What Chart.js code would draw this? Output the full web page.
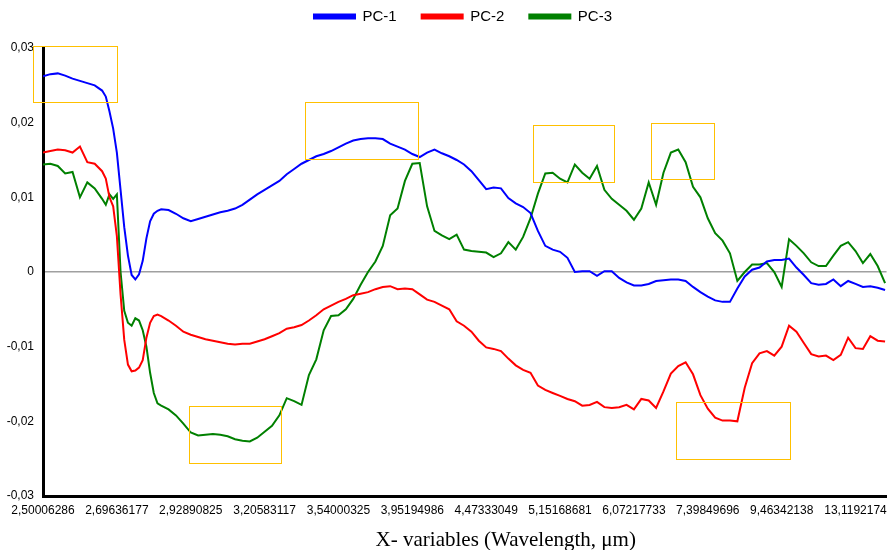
<!DOCTYPE html>
<html>
<head>
<meta charset="utf-8">
<script src="https://cdn.jsdelivr.net/npm/chart.js@4.4.1/dist/chart.umd.min.js"></script>
<style>
  html, body { margin: 0; padding: 0; background: #fff; }
  #wrap { width: 894px; height: 550px; position: relative; }
</style>
</head>
<body>
<div id="wrap"><canvas id="pcChart"></canvas></div>
<script>
// wavelength labels shown under the x axis (one per unit of x position)
const xTickLabels = ['2,50006286', '2,69636177', '2,92890825', '3,20583117', '3,54000325', '3,95194986',
    '4,47333049', '5,15168681', '6,07217733', '7,39849696', '9,46342138', '13,1192174'];
const xMax = 11.42;
const xTitle = 'X- variables (Wavelength, μm)';

// sample positions along the x axis, in label steps (finer through the steep drop)
const xPos = [];
for (let i = 0; i <= 8; i++) xPos.push(i / 10);
for (let i = 17; i <= 32; i++) xPos.push(i / 20);
for (let i = 17; i <= 114; i++) xPos.push(i / 10);

const pc1 = [
    0.0262, 0.0265, 0.0266, 0.0263, 0.0259, 0.0256, 0.0253, 0.0250, 0.0243,
    0.0235, 0.0215, 0.0192, 0.0160, 0.0110, 0.0060, 0.0022, -0.0004, -0.0010, -0.0003, 0.0015, 0.0045, 0.0068, 0.0078, 0.0082, 0.0084,
    0.0083, 0.0078, 0.0072, 0.0068, 0.0071, 0.0074, 0.0077, 0.0080, 0.0082, 0.0085,
    0.0090, 0.0097, 0.0104, 0.0110, 0.0116, 0.0122, 0.0131, 0.0138, 0.0145, 0.0150,
    0.0155, 0.0158, 0.0162, 0.0167, 0.0172, 0.0176, 0.0178, 0.0179, 0.0179, 0.0178,
    0.0172, 0.0168, 0.0164, 0.0158, 0.0154, 0.0160, 0.0164, 0.0159, 0.0155, 0.0150,
    0.0144, 0.0135, 0.0123, 0.0111, 0.0113, 0.0112, 0.0099, 0.0092, 0.0087, 0.0079,
    0.0055, 0.0035, 0.0030, 0.0027, 0.0019, 0.0000, 0.0001, 0.0001, -0.0005, 0.0001,
    0.0001, -0.0008, -0.0014, -0.0018, -0.0018, -0.0016, -0.0012, -0.0011, -0.0010, -0.0010,
    -0.0012, -0.0020, -0.0027, -0.0033, -0.0038, -0.0040, -0.0040, -0.0022, -0.0006, 0.0003,
    0.0006, 0.0014, 0.0016, 0.0016, 0.0018, 0.0006, -0.0004, -0.0015, -0.0017, -0.0016,
    -0.0010, -0.0019, -0.0012, -0.0016, -0.0020, -0.0019, -0.0021, -0.0024
];

const pc2 = [
    0.0160, 0.0162, 0.0164, 0.0163, 0.0160, 0.0168, 0.0147, 0.0145, 0.0135,
    0.0125, 0.0100, 0.0088, 0.0048, -0.0030, -0.0091, -0.0124, -0.0133, -0.0132, -0.0128, -0.0118, -0.0088, -0.0068, -0.0059, -0.0057, -0.0059,
    -0.0065, -0.0072, -0.0080, -0.0084, -0.0087, -0.0090, -0.0092, -0.0094, -0.0096, -0.0097,
    -0.0096, -0.0096, -0.0093, -0.0090, -0.0086, -0.0082, -0.0076, -0.0074, -0.0071, -0.0065,
    -0.0058, -0.0050, -0.0045, -0.0040, -0.0036, -0.0031, -0.0029, -0.0027, -0.0023, -0.0020,
    -0.0019, -0.0023, -0.0022, -0.0023, -0.0030, -0.0037, -0.0040, -0.0045, -0.0050, -0.0066,
    -0.0072, -0.0080, -0.0092, -0.0101, -0.0103, -0.0106, -0.0116, -0.0125, -0.0131, -0.0135,
    -0.0152, -0.0158, -0.0162, -0.0166, -0.0170, -0.0173, -0.0179, -0.0178, -0.0174, -0.0181,
    -0.0182, -0.0181, -0.0178, -0.0184, -0.0170, -0.0172, -0.0182, -0.0160, -0.0136, -0.0126,
    -0.0121, -0.0137, -0.0165, -0.0183, -0.0195, -0.0199, -0.0199, -0.0200, -0.0155, -0.0122,
    -0.0109, -0.0106, -0.0112, -0.0100, -0.0072, -0.0080, -0.0095, -0.0110, -0.0113, -0.0112,
    -0.0118, -0.0111, -0.0088, -0.0102, -0.0103, -0.0086, -0.0092, -0.0093
];

const pc3 = [
    0.0144, 0.0145, 0.0142, 0.0132, 0.0134, 0.0100, 0.0120, 0.0112, 0.0098,
    0.0090, 0.0104, 0.0098, 0.0104, 0.0000, -0.0052, -0.0068, -0.0072, -0.0062, -0.0065, -0.0078, -0.0100, -0.0135, -0.0162, -0.0176, -0.0179,
    -0.0184, -0.0192, -0.0203, -0.0215, -0.0219, -0.0218, -0.0217, -0.0218, -0.0220, -0.0224,
    -0.0226, -0.0227, -0.0222, -0.0214, -0.0206, -0.0192, -0.0169, -0.0173, -0.0178, -0.0138,
    -0.0117, -0.0078, -0.0059, -0.0058, -0.0050, -0.0036, -0.0017, 0.0000, 0.0014, 0.0035,
    0.0076, 0.0085, 0.0122, 0.0145, 0.0146, 0.0088, 0.0055, 0.0049, 0.0044, 0.0050,
    0.0030, 0.0028, 0.0027, 0.0026, 0.0020, 0.0025, 0.0040, 0.0030, 0.0047, 0.0072,
    0.0105, 0.0132, 0.0133, 0.0125, 0.0120, 0.0144, 0.0133, 0.0125, 0.0142, 0.0110,
    0.0098, 0.0090, 0.0082, 0.0070, 0.0085, 0.0120, 0.0090, 0.0133, 0.0160, 0.0164,
    0.0147, 0.0114, 0.0100, 0.0072, 0.0052, 0.0042, 0.0025, -0.0012, 0.0000, 0.0010,
    0.0010, 0.0012, 0.0000, -0.0020, 0.0044, 0.0035, 0.0025, 0.0013, 0.0008, 0.0008,
    0.0022, 0.0035, 0.0040, 0.0028, 0.0012, 0.0024, 0.0008, -0.0015
];

// highlighted regions: [x from, x to, y top, y bottom]
const highlights = [
    [-0.135, 1.00, 0.0303, 0.0228],
    [3.55, 5.08, 0.0228, 0.0152],
    [6.64, 7.74, 0.0197, 0.0121],
    [8.23, 9.08, 0.0199, 0.0124],
    [1.97, 3.22, -0.0179, -0.0256],
    [8.57, 10.12, -0.0174, -0.0250]
];

function toPoints(values) {
    return values.map((v, i) => ({ x: xPos[i], y: v }));
}

function fmtComma(v) {
    if (Math.abs(v) < 1e-9) return '0';
    return v.toFixed(2).replace('.', ',');
}

const highlightBoxes = {
    id: 'highlightBoxes',
    afterDatasetsDraw(chart) {
        const ctx = chart.ctx;
        const xs = chart.scales.x;
        const ys = chart.scales.y;
        ctx.save();
        ctx.strokeStyle = '#FFC000';
        ctx.lineWidth = 1;
        highlights.forEach(function (b) {
            const x0 = xs.getPixelForValue(b[0]);
            const x1 = xs.getPixelForValue(b[1]);
            const y0 = ys.getPixelForValue(b[2]);
            const y1 = ys.getPixelForValue(b[3]);
            ctx.strokeRect(Math.round(x0) + 0.5, Math.round(y0) + 0.5, Math.round(x1 - x0), Math.round(y1 - y0));
        });
        ctx.restore();
    }
};

// legend sits a bit higher and right of where Chart.js centres it; axis title is off-centre too
const placement = {
    id: 'placement',
    afterLayout(chart) {
        const lg = chart.legend;
        lg.top -= 14; lg.bottom -= 14;
        lg.left += 19; lg.right += 19;
    },
    afterDraw(chart) {
        const ctx = chart.ctx;
        const area = chart.chartArea;
        ctx.save();
        ctx.font = '21px "Liberation Serif", "Times New Roman", serif';
        ctx.fillStyle = '#000';
        ctx.textAlign = 'center';
        ctx.textBaseline = 'middle';
        ctx.fillText(xTitle, (area.left + area.right) / 2 + 41, chart.scales.x.bottom - 10);
        ctx.restore();
    }
};

const ctx = document.getElementById('pcChart').getContext('2d');
const chart = new Chart(ctx, {
    type: 'line',
    data: {
        datasets: [
            { label: 'PC-1', data: toPoints(pc1), borderColor: '#0000FF', backgroundColor: '#0000FF' },
            { label: 'PC-2', data: toPoints(pc2), borderColor: '#FF0000', backgroundColor: '#FF0000' },
            { label: 'PC-3', data: toPoints(pc3), borderColor: '#008000', backgroundColor: '#008000' }
        ]
    },
    options: {
        responsive: true,
        maintainAspectRatio: false,
        animation: false,
        layout: { padding: { top: -2, right: 6, left: 0, bottom: 0 } },
        elements: {
            line: { borderWidth: 2, tension: 0 },
            point: { radius: 0 }
        },
        scales: {
            x: {
                type: 'linear',
                min: 0,
                max: xMax,
                afterFit: function (scale) { scale.height = 54; },
                grid: { display: false, drawTicks: false },
                border: { display: true, color: '#000', width: 3 },
                ticks: {
                    stepSize: 1,
                    includeBounds: false,
                    maxRotation: 0,
                    autoSkip: false,
                    padding: 7,
                    color: '#000',
                    font: { family: 'Liberation Sans, Arial', size: 12 },
                    callback: function (value) { return xTickLabels[Math.round(value)]; }
                },
                title: { display: false }
            },
            y: {
                min: -0.03,
                max: 0.03,
                afterFit: function (scale) { scale.width = 43; },
                grid: {
                    drawTicks: false,
                    color: function (c) { return Math.abs(c.tick.value) < 1e-9 ? '#A0A0A0' : 'rgba(0,0,0,0)'; },
                    lineWidth: 1.5
                },
                border: { display: true, color: '#000', width: 3 },
                ticks: {
                    stepSize: 0.01,
                    padding: 9,
                    color: '#000',
                    font: { family: 'Liberation Sans, Arial', size: 12 },
                    callback: function (value) { return fmtComma(value); }
                }
            }
        },
        plugins: {
            legend: {
                position: 'top',
                labels: {
                    boxWidth: 41,
                    boxHeight: 4,
                    padding: 25,
                    color: '#000',
                    font: { family: 'Liberation Sans, Arial', size: 15 }
                }
            },
            tooltip: { enabled: false }
        }
    },
    plugins: [highlightBoxes, placement]
});
</script>
</body>
</html>
